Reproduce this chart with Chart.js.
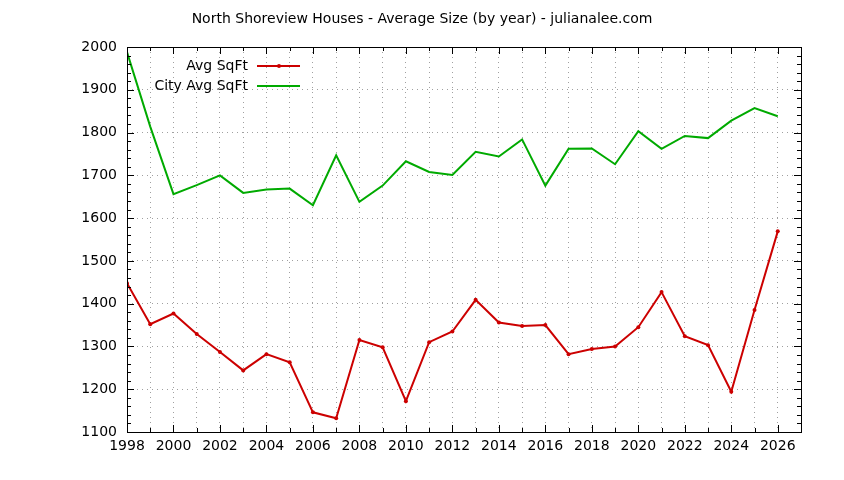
<!DOCTYPE html>
<html>
<head>
<meta charset="utf-8">
<script src="https://cdn.jsdelivr.net/npm/chart.js@4/dist/chart.umd.min.js"></script>
<style>
  html, body { margin: 0; padding: 0; background: #fff; }
  #wrap { width: 844px; height: 480px; }
</style>
</head>
<body>
<div id="wrap"><canvas id="chart" width="844" height="480"></canvas></div>
<script>
const titleText = 'North Shoreview Houses - Average Size (by year) - julianalee.com';
const years = [1998, 1999, 2000, 2001, 2002, 2003, 2004, 2005, 2006, 2007, 2008, 2009, 2010, 2011, 2012,
  2013, 2014, 2015, 2016, 2017, 2018, 2019, 2020, 2021, 2022, 2023, 2024, 2025, 2026];
const avgSqFt = [1448, 1352, 1377, 1329, 1287, 1244, 1282, 1263, 1146, 1132, 1315, 1298, 1172, 1310, 1335,
  1409, 1356, 1348, 1350, 1282, 1294, 1300, 1345, 1427, 1324, 1303, 1194, 1385, 1569];
const cityAvgSqFt = [1988, 1814, 1656, 1677, 1700, 1659, 1667, 1669, 1630, 1747, 1638, 1676, 1733, 1708, 1701,
  1755, 1744, 1784, 1676, 1762, 1763, 1726, 1803, 1762, 1792, 1787, 1828, 1857, 1838];
const xMin = 1998, xMax = 2027, lastLabel = 2026;
const yMin = 1100, yMax = 2000;

const FONT = 'DejaVu Sans';
const FSIZE = 14;

// gnuplot style frame: border box with inward ticks (minor every 20 on y, every year on x)
const framePlugin = {
  id: 'frame',
  afterDraw(chart) {
    const { ctx, chartArea: a, scales } = chart;
    ctx.save();
    ctx.strokeStyle = '#000';
    ctx.lineWidth = 1;
    ctx.beginPath();
    for (let v = yMin; v <= yMax; v += 20) {
      const y = Math.round(scales.y.getPixelForValue(v)) + 0.5;
      const len = v % 100 === 0 ? 7 : 4;
      ctx.moveTo(a.left, y); ctx.lineTo(a.left + len, y);
      ctx.moveTo(a.right, y); ctx.lineTo(a.right - len, y);
    }
    for (let v = xMin; v <= xMax; v++) {
      const x = Math.round(scales.x.getPixelForValue(v)) + 0.5;
      const len = v % 2 === 0 ? 7 : 4;
      ctx.moveTo(x, a.bottom); ctx.lineTo(x, a.bottom - len);
      ctx.moveTo(x, a.top); ctx.lineTo(x, a.top + len);
    }
    ctx.stroke();
    ctx.strokeRect(Math.round(a.left) + 0.5, Math.round(a.top) + 0.5,
      Math.round(a.right - a.left), Math.round(a.bottom - a.top));
    ctx.restore();
  }
};

// legend drawn inside plot, text right-aligned with a line sample after it
const keyPlugin = {
  id: 'key',
  afterDraw(chart) {
    const ctx = chart.ctx;
    ctx.save();
    ctx.font = FSIZE + 'px "' + FONT + '"';
    ctx.textAlign = 'right';
    ctx.textBaseline = 'middle';
    chart.data.datasets.forEach((ds, i) => {
      const y = 66 + i * 20;
      ctx.fillStyle = '#000';
      ctx.fillText(ds.label, 248, y);
      ctx.strokeStyle = ds.borderColor;
      ctx.lineWidth = 2;
      ctx.beginPath();
      ctx.moveTo(257, y); ctx.lineTo(300, y);
      ctx.stroke();
      if (ds.pointRadius > 0) {
        ctx.fillStyle = ds.borderColor;
        ctx.beginPath();
        ctx.arc(279, y, ds.pointRadius, 0, Math.PI * 2);
        ctx.fill();
      }
    });
    ctx.restore();
  }
};

new Chart(document.getElementById('chart'), {
  type: 'line',
  data: {
    datasets: [
      {
        label: 'Avg SqFt',
        data: years.map((yr, i) => ({ x: yr, y: avgSqFt[i] })),
        borderColor: '#cc0000',
        backgroundColor: '#cc0000',
        borderWidth: 2,
        pointRadius: 2,
        pointBorderWidth: 0,
        tension: 0
      },
      {
        label: 'City Avg SqFt',
        data: years.map((yr, i) => ({ x: yr, y: cityAvgSqFt[i] })),
        borderColor: '#00aa00',
        backgroundColor: '#00aa00',
        borderWidth: 2,
        pointRadius: 0,
        tension: 0
      }
    ]
  },
  options: {
    responsive: false,
    animation: false,
    devicePixelRatio: 1,
    layout: { padding: 0 },
    plugins: {
      legend: { display: false },
      tooltip: { enabled: false },
      title: {
        display: true,
        text: titleText,
        color: '#000',
        font: { family: FONT, size: FSIZE, weight: 'normal' },
        padding: { top: 11, bottom: 19.2 }
      }
    },
    scales: {
      x: {
        type: 'linear',
        min: xMin,
        max: xMax,
        afterFit: s => { s.height = 48; },
        ticks: {
          stepSize: 1,
          autoSkip: false,
          maxRotation: 0,
          padding: 6,
          color: '#000',
          font: { family: FONT, size: FSIZE },
          callback: v => (v % 2 === 0 && v <= lastLabel ? String(v) : '')
        },
        grid: { color: '#a0a0a0', lineWidth: 1, drawTicks: false },
        border: { display: false, dash: [1, 4] }
      },
      y: {
        min: yMin,
        max: yMax,
        afterFit: s => { s.width = 127; },
        ticks: {
          stepSize: 100,
          padding: 10,
          color: '#000',
          font: { family: FONT, size: FSIZE },
          callback: v => String(v)
        },
        grid: { color: '#a0a0a0', lineWidth: 1, drawTicks: false },
        border: { display: false, dash: [1, 4] }
      },
      // empty right margin so the title centres on the whole page
      yRight: {
        position: 'right',
        min: yMin,
        max: yMax,
        afterFit: s => { s.width = 43; },
        ticks: { display: false },
        grid: { display: false, drawTicks: false },
        border: { display: false }
      }
    }
  },
  plugins: [framePlugin, keyPlugin]
});
</script>
</body>
</html>
